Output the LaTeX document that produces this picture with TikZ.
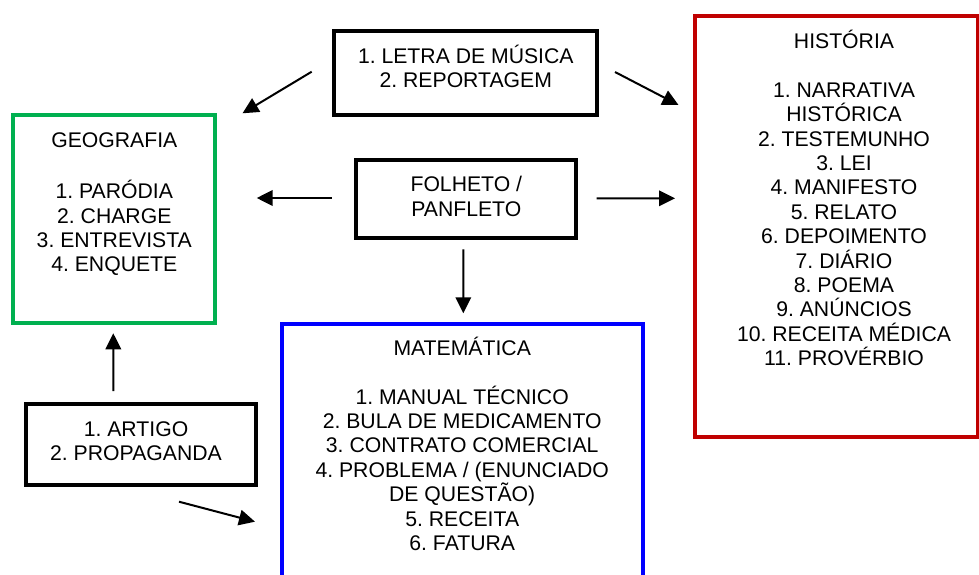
\documentclass[tikz,border=0pt]{standalone}
\usepackage{fontspec}
\setmainfont{Liberation Sans}
\usetikzlibrary{arrows.meta,calc}
\definecolor{geogreen}{HTML}{00B050}
\definecolor{histred}{HTML}{C00000}
\definecolor{matblue}{HTML}{0000FF}
\newcommand{\fstrut}{\rule{0pt}{21pt}}
\frenchspacing
\begin{document}
\begin{tikzpicture}[x=1pt,y=-1pt,
  box/.style={draw, line width=3.7pt, rectangle, inner sep=0pt, outer sep=0pt, anchor=north west},
  txt/.style={font=\frenchspacing\fontsize{21.2}{24.4}\selectfont, align=center, inner sep=0pt, anchor=north},
  arr/.style={line width=2pt, -{Triangle[length=16pt,width=15.5pt]}}]
\useasboundingbox (0,0) rectangle (979,575);
\clip (0,0) rectangle (979,575);
% boxes
\node[box, draw=geogreen, minimum width=201.7pt, minimum height=207.7pt] (geo) at (13,115.3) {};
\node[box, minimum width=263.6pt, minimum height=83.4pt] (letra) at (333.7,31.3) {};
\node[box, minimum width=219.7pt, minimum height=78pt] (folheto) at (356.3,160.3) {};
\node[box, draw=histred, minimum width=282.8pt, minimum height=421.3pt] (hist) at (694.7,16) {};
\node[box, draw=matblue, minimum width=361pt, minimum height=290pt] (mat) at (282,323.7) {};
\node[box, minimum width=230pt, minimum height=81pt] (artigo) at (26.3,404) {};
% texts
\node[txt] (geot) at (114.3,126) {\fstrut GEOGRAFIA\\[27pt]1. PARÓDIA\\2. CHARGE\\3. ENTREVISTA\\4. ENQUETE};
\node[txt] (letrat) at (465.8,42.3) {\fstrut 1. LETRA DE MÚSICA\\2. REPORTAGEM};
\node[txt] (folt) at (466.3,170.7) {\fstrut FOLHETO /\\PANFLETO};
\node[txt] (histt) at (844,27.3) {\fstrut HISTÓRIA\\[24.4pt]1. NARRATIVA\\HISTÓRICA\\2. TESTEMUNHO\\3. LEI\\4. MANIFESTO\\5. RELATO\\6. DEPOIMENTO\\7. DIÁRIO\\8. POEMA\\9. ANÚNCIOS\\10. RECEITA MÉDICA\\11. PROVÉRBIO};
\node[txt] (matt) at (462.2,334) {\fstrut MATEMÁTICA\\[24.4pt]1. MANUAL TÉCNICO\\2. BULA DE MEDICAMENTO\\3. CONTRATO COMERCIAL\\4. PROBLEMA / (ENUNCIADO\\DE QUESTÃO)\\5. RECEITA\\6. FATURA};
\node[txt] (artt) at (136,415) {\fstrut 1. ARTIGO\\2. PROPAGANDA};
% arrows
\draw[arr] ($(letra.west)+(-22,-1.3)$) -- ($(geo.north east)+(27.8,-2)$);
\draw[arr] ($(folheto.west)+(-24.6,-1.3)$) -- ($(geo.east)+(42,-21.15)$);
\draw[arr] ($(letra.east)+(17.7,-1)$) -- ($(hist.north west)+(-16.2,89)$);
\draw[arr] ($(folheto.east)+(20.5,-1)$) -- ($(hist.west)+(-19.7,-28.35)$);
\draw[arr] ($(folheto.south)+(-2.85,11)$) -- ($(mat.north)+(0.8,-10.4)$);
\draw[arr] ($(artigo.north)+(-28,-13)$) -- ($(geo.south)+(-0.55,10.3)$);
\draw[arr] ($(artigo.south)+(37.7,16.7)$) -- ($(mat.north west)+(-27,198)$);
\end{tikzpicture}
\end{document}
